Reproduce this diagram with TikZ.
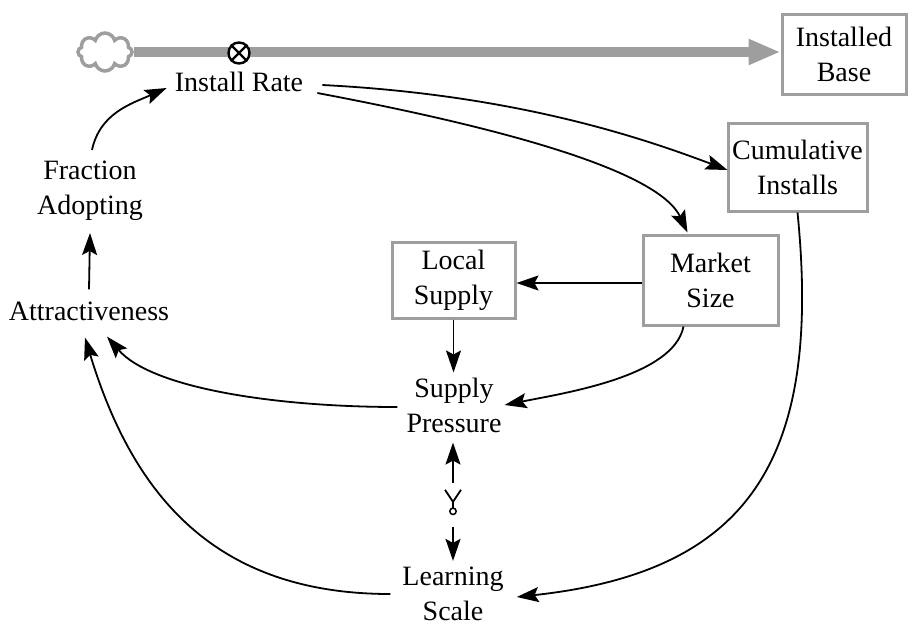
\documentclass[tikz,border=0pt]{standalone}
\usepackage{fontspec}
\setmainfont{Liberation Serif}
\usetikzlibrary{arrows.meta,shapes.symbols}
\definecolor{boxgray}{RGB}{158,158,158}
\begin{document}
\begin{tikzpicture}[x=1pt,y=-1pt,
  every node/.style={font=\fontsize{28}{35}\selectfont, align=center, inner sep=0pt},
  stockbox/.style={draw=boxgray, line width=3pt, fill=white, inner sep=0pt},
  link/.style={draw=black, line width=1.8pt, -{Stealth[length=22pt,width=15pt,inset=4pt]}},
]
\useasboundingbox (0,0) rectangle (917,627);
% stocks
\node[stockbox, minimum width=124pt, minimum height=80pt] (ib) at (844,54) {Installed\\Base};
\node[stockbox, minimum width=139pt, minimum height=88pt] (ci) at (797.5,167) {Cumulative\\Installs};
\node[stockbox, minimum width=135pt, minimum height=90pt] (ms) at (710.5,280) {Market\\Size};
\node[stockbox, minimum width=123pt, minimum height=76pt] (ls) at (453.5,280) {Local\\Supply};
% auxiliaries
\node (ir) at (239,82) {Install Rate};
\node (fa) at (90,191) {Fraction\\Adopting};
\node (at) at (89,311) {Attractiveness};
\node (sp) at (454,405) {Supply\\Pressure};
\node (lsc) at (453,594) {Learning\\Scale};
% flow
\node[cloud, cloud puffs=8, cloud ignores aspect, draw=boxgray, line width=3.5pt, minimum width=54pt, minimum height=38pt] (src) at (105,52) {};
\draw[boxgray, line width=10pt, -{Triangle[length=32pt,width=24pt]}] (src.east) -- (src.east -| ib.west);
\node[circle, draw, line width=2.4pt, fill=white, minimum size=21pt] (valve) at (239,53) {};
\draw[line width=2.4pt] (valve.45) -- (valve.225) (valve.135) -- (valve.315);
% delay symbol
\node[minimum width=18pt, minimum height=26pt] (dl) at (453,503) {};
\draw[line width=1.8pt] ([xshift=-8pt]dl.north) -- ([yshift=-12pt]dl.north) -- ([xshift=8pt]dl.north);
\draw[line width=1.8pt] ([yshift=-12pt]dl.north) -- ([yshift=-18pt]dl.north);
\draw[line width=1.5pt] ([yshift=-21.5pt]dl.north) circle (3.2pt);
% links
\draw[link] ([xshift=2pt,yshift=11pt]fa.north) to[out=78,in=204] ([xshift=-8pt,yshift=-6pt]ir.west);
\draw[link] ([yshift=12pt]at.north) -- ([yshift=-12pt]fa.south);
\draw[link] ([xshift=19pt,yshift=-3pt]ir.east) .. controls +(198,10) and +(-80,-30) .. ([xshift=1pt,yshift=-3pt]ci.west);
\draw[link] ([xshift=14pt,yshift=-11pt]ir.east) .. controls +(143,27) and +(-32,-68) .. ([xshift=-23pt,yshift=1pt]ms.north);
\draw[link] ([yshift=-3pt]ms.west) -- ([yshift=-3pt]ms.west -| ls.east);
\draw[link] ([xshift=-27pt]ms.south) .. controls +(-10,50) and +(60,-12) .. ([xshift=3pt]sp.east);
\draw[link] (ls.south) -- ([yshift=5pt]ls.south |- sp.north);
\draw[link] ([xshift=-9pt,yshift=-2pt]sp.west) .. controls +(-120,0) and +(45,52) .. ([xshift=18pt,yshift=-16pt]at.south);
\draw[link] ([xshift=-12pt]lsc.west) .. controls +(-175,0) and +(48,158) .. ([xshift=-4pt,yshift=-17pt]at.south);
\draw[link] (ci.south) .. controls +(25,250) and +(230,-25) .. ([xshift=13pt,yshift=-3pt]lsc.east);
\draw[link] ([yshift=7pt]dl.north) -- ([yshift=-10pt]dl.north |- sp.south);
\draw[link] ([yshift=-11pt]dl.south) -- ([yshift=6pt]dl.south |- lsc.north);
\end{tikzpicture}
\end{document}
